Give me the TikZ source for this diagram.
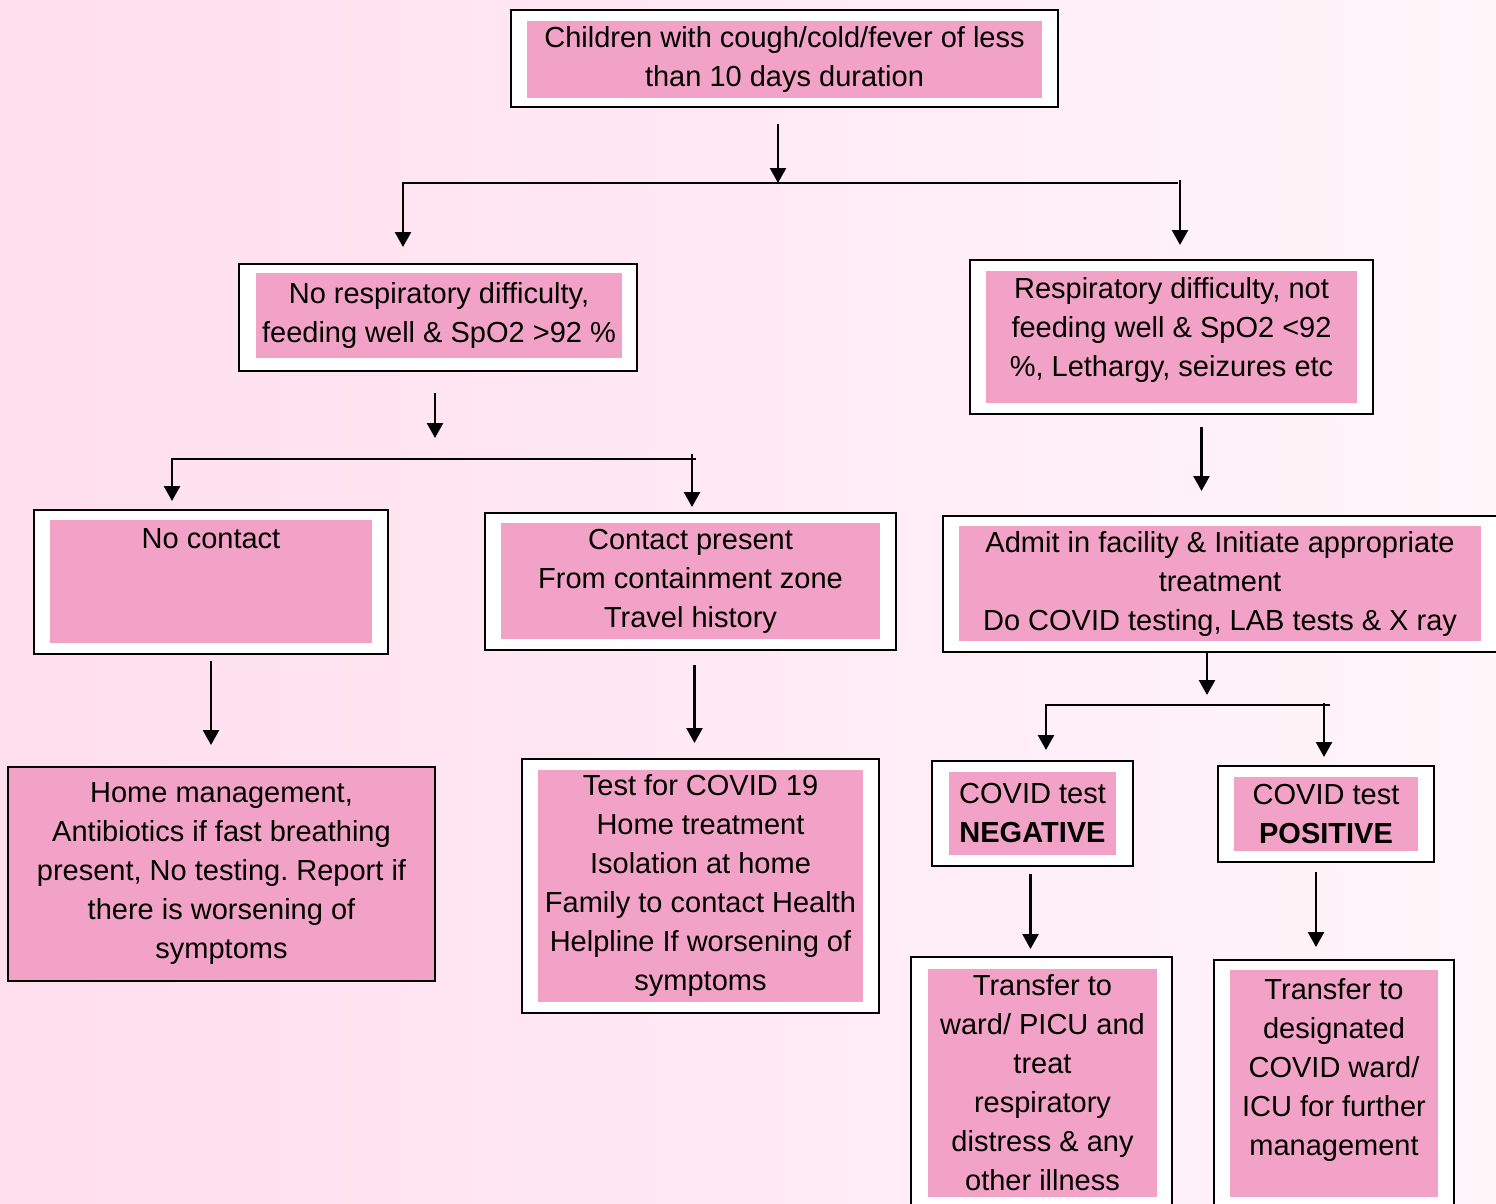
\documentclass[tikz,border=0pt]{standalone}
\usepackage{fontspec}
\setmainfont{Liberation Sans}
\usetikzlibrary{arrows.meta,positioning}
\frenchspacing

\definecolor{boxpink}{RGB}{242,162,198}
\definecolor{bgleft}{RGB}{255,222,237}
\definecolor{bgright}{RGB}{255,246,250}

\begin{document}
\begin{tikzpicture}[x=1pt,y=-1pt,>={Triangle[length=15pt,width=16pt]},
  line width=2pt,
  outer box/.style={draw,fill=white,line width=2pt,inner sep=0pt},
  pink box/.style={fill=boxpink,inner sep=0pt,align=center,
  font=\fontsize{29}{39}\selectfont},
  plain text/.style={inner sep=0pt,align=center,
  font=\fontsize{29}{39}\selectfont},
  flow/.style={->,line width=2.5pt}]

  \useasboundingbox (0,0) rectangle (1496,1204);
  \clip (0,0) rectangle (1496,1204);
  \shade[left color=bgleft,right color=bgright] (0,0) rectangle (1496,1204);

  % first level
  \node[outer box,minimum width=547pt,minimum height=97pt] (start) at (784.5,58.5) {};
  \node[pink box,minimum width=515pt,minimum height=77pt] (startin) at (784.5,60)
    {Children with cough/cold/fever of less\\than 10 days duration};

  % second level
  \node[outer box,minimum width=398pt,minimum height=107pt] (noresp) at (438,317.5) {};
  \node[pink box,minimum width=366pt,minimum height=85pt] (norespin) at (439,315.5)
    {No respiratory difficulty,\\feeding well \& SpO2 >92 \%};

  \node[outer box,minimum width=403pt,minimum height=154pt] (resp) at (1171.5,337) {};
  \node[pink box,minimum width=371pt,minimum height=132pt] (respin) at (resp) {};
  \node[plain text] (resptxt) at (1171.5,330)
    {Respiratory difficulty, not\\feeding well \& SpO2 <92\\\%, Lethargy, seizures etc};

  % third level
  \node[outer box,minimum width=354pt,minimum height=144pt] (nocontact) at (211,582) {};
  \node[pink box,minimum width=322pt,minimum height=123pt] (nocontactin) at (211,581.5) {};
  \node[plain text,below=9pt of nocontactin.north] (nocontacttxt) {No contact};

  \node[outer box,minimum width=411pt,minimum height=137pt] (contact) at (690.5,581.5) {};
  \node[pink box,minimum width=379pt,minimum height=116pt] (contactin) at (690.5,581)
    {Contact present\\From containment zone\\Travel history};

  \node[outer box,minimum width=577pt,minimum height=136pt] (admit) at (1231.5,584) {};
  \node[pink box,minimum width=522pt,minimum height=115pt] (admitin) at (1220,583.5)
    {Admit in facility \& Initiate appropriate\\treatment\\Do COVID testing, LAB tests \& X ray};

  % fourth level
  \node[pink box,draw,minimum width=427pt,minimum height=214pt] (home) at (221.5,874)
    {Home management,\\Antibiotics if fast breathing\\present, No testing. Report if\\there is worsening of\\symptoms};

  \node[outer box,minimum width=357pt,minimum height=254pt] (test) at (700.5,886) {};
  \node[pink box,minimum width=325pt,minimum height=232pt] (testin) at (test)
    {Test for COVID 19\\Home treatment\\Isolation at home\\Family to contact Health\\Helpline If worsening of\\symptoms};

  \node[outer box,minimum width=201pt,minimum height=105pt] (neg) at (1032.5,813.5) {};
  \node[pink box,minimum width=167pt,minimum height=83pt] (negin) at (neg)
    {COVID test\\\textbf{NEGATIVE}};

  \node[outer box,minimum width=216pt,minimum height=96pt] (pos) at (1326,814) {};
  \node[pink box,minimum width=184pt,minimum height=74pt] (posin) at (pos)
    {COVID test\\\textbf{POSITIVE}};

  % last level
  \node[outer box,minimum width=261pt,minimum height=273pt] (ward) at (1041.5,1093.5) {};
  \node[pink box,minimum width=229pt,minimum height=228pt] (wardin) at (1042.5,1083)
    {Transfer to\\ward/ PICU and\\treat\\respiratory\\distress \& any\\other illness};

  \node[outer box,minimum width=240pt,minimum height=270pt] (desig) at (1334,1095) {};
  \node[pink box,minimum width=208pt,minimum height=227pt] (desigin) at (1334,1083.5) {};
  \node[plain text,below=9pt of desigin.north] (desigtxt)
    {Transfer to\\designated\\COVID ward/\\ICU for further\\management};

  % branch points
  \coordinate (j1) at (778,183);
  \coordinate (j1l) at (403,183);
  \coordinate (j1r) at (1180,180);
  \coordinate (j2) at (435,459);
  \coordinate (j2l) at (172,459);
  \coordinate (j2r) at (692,454);
  \coordinate (j3) at (1207,705);
  \coordinate (j3l) at (1046,705);
  \coordinate (j3r) at (1324,703);

  \draw (j1l) -- ([xshift=-2pt]j1r |- j1);
  \draw (j2l) -- ([xshift=4pt]j2r |- j2);
  \draw (j3l) -- ([xshift=6pt]j3r |- j3);

  \draw[flow,shorten <=16pt] (start.south -| j1) -- (j1);
  \draw[flow,shorten >=16pt] ([yshift=1pt]j1l) -- (j1l |- noresp.north);
  \draw[flow,shorten >=14pt] (j1r) -- (j1r |- resp.north);

  \draw[flow,shorten <=21pt,shorten >=21pt] (noresp.south -| j2) -- (j2);
  \draw[flow,shorten >=8pt] ([yshift=1pt]j2l) -- (j2l |- nocontact.north);
  \draw[flow,shorten >=5pt] (j2r) -- (j2r |- contact.north);

  \draw[flow,shorten <=6pt,shorten >=21pt] (nocontact.south) -- (nocontact.south |- home.north);
  \draw[flow,shorten <=14pt,shorten >=15pt] ([xshift=4pt]contact.south) -- ([xshift=4pt]contact.south |- test.north);

  \draw[flow,shorten <=12pt,shorten >=24pt] ([xshift=30pt]resp.south) -- ([xshift=30pt]resp.south |- admit.north);
  \draw[flow,shorten >=10pt] (admit.south -| j3) -- (j3);
  \draw[flow,shorten >=10pt] ([yshift=1pt]j3l) -- (j3l |- neg.north);
  \draw[flow,shorten >=8pt] (j3r) -- (j3r |- pos.north);

  \draw[flow,shorten <=7pt,shorten >=7pt] ([xshift=-2pt]neg.south) -- ([xshift=-2pt]neg.south |- ward.north);
  \draw[flow,shorten <=9pt,shorten >=12pt] ([xshift=-10pt]pos.south) -- ([xshift=-10pt]pos.south |- desig.north);
\end{tikzpicture}
\end{document}
